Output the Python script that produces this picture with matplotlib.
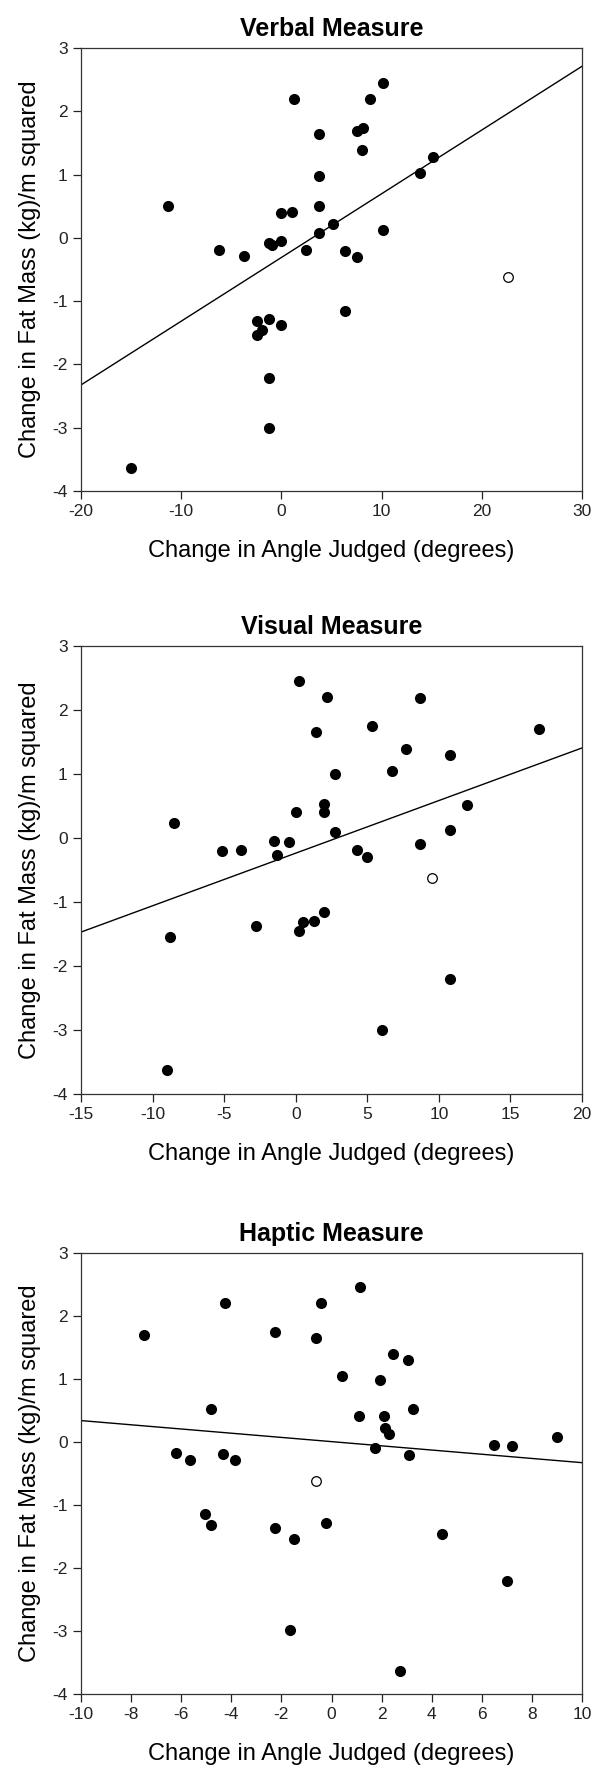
import numpy as np
import matplotlib
matplotlib.use("Agg")
from matplotlib import pyplot as plt

plt.rcParams["font.family"] = ["Liberation Sans", "DejaVu Sans"]
plt.rcParams["axes.unicode_minus"] = False

# Verbal measure
verbal_x = [-11.3, -6.2, -3.7, -2.4, -2.4, -1.9, -1.2, -1.2, -1.2, 0.0,
            -1.2, -0.9, 0.0, 0.0, 1.1, 1.3, 2.5, 3.8, 3.8, 3.8,
            3.8, 5.1, 6.3, 6.3, 7.5, 7.5, 8.1, 8.0, 8.8, 10.1,
            10.1, 13.8, 15.1, -15.0]
verbal_y = [0.51, -0.19, -0.28, -1.32, -1.54, -1.46, -1.29, -2.21, -3.0, -1.37,
            -0.08, -0.12, -0.05, 0.40, 0.41, 2.20, -0.19, 1.64, 0.98, 0.51,
            0.08, 0.22, -0.21, -1.15, -0.30, 1.69, 1.74, 1.39, 2.19, 2.44,
            0.12, 1.03, 1.28, -3.63]
verbal_out = (22.6, -0.62)
verbal_fit = (-0.31, 0.1007)

# Visual measure
visual_x = [-8.5, -5.15, -3.8, -1.5, -1.3, -0.5, 0.0, 0.2, 1.45, 2.0,
            2.0, 2.2, 2.75, 2.75, 4.25, 5.0, 5.35, 6.7, 7.7, 8.7,
            8.7, 10.75, 10.75, 12.0, 17.0, -8.8, -2.75, 0.2, 0.5, 1.25,
            2.0, 10.75, 6.0, -9.0]
visual_y = [0.23, -0.20, -0.18, -0.04, -0.27, -0.07, 0.41, 2.45, 1.65, 0.53,
            0.41, 2.20, 1.00, 0.09, -0.18, -0.29, 1.75, 1.05, 1.39, 2.19,
            -0.10, 1.29, 0.12, 0.52, 1.70, -1.54, -1.37, -1.46, -1.32, -1.30,
            -1.16, -2.20, -3.0, -3.63]
visual_out = (9.5, -0.62)
visual_fit = (-0.237, 0.0822)

# Haptic measure
haptic_x = [-7.5, -6.2, -5.65, -4.8, -4.25, -4.35, -3.85, -2.25, -0.6, -0.4,
            0.4, 1.15, 1.1, 1.75, 1.95, 2.1, 2.15, 2.3, 2.45, 3.05,
            3.25, 3.1, 6.5, 7.2, 9.0, -5.05, -4.8, -2.25, -1.5, -0.2,
            -1.65, 4.4, 7.0, 2.75]
haptic_y = [1.70, -0.18, -0.28, 0.52, 2.20, -0.19, -0.28, 1.75, 1.65, 2.20,
            1.04, 2.46, 0.42, -0.10, 0.99, 0.41, 0.22, 0.12, 1.39, 1.30,
            0.52, -0.20, -0.04, -0.07, 0.08, -1.15, -1.32, -1.37, -1.54, -1.29,
            -2.99, -1.46, -2.20, -3.63]
haptic_out = (-0.62, -0.62)
haptic_fit = (0.006, -0.0334)

titles = ["Verbal Measure", "Visual Measure", "Haptic Measure"]
x_ranges = [(-20, 30), (-15, 20), (-10, 10)]
x_steps = [10, 5, 2]
y_ticks = [3, 2, 1, 0, -1, -2, -3, -4]

W, H = 596, 1771
# (top, bottom) of each plot area in pixels
boxes = [(48, 491), (646, 1094), (1253, 1694)]
left, right = 81, 582


def draw_panel(ax, xs, ys, out, fit, title, xr, step):
    ax.scatter(xs, ys, s=64, color="black", zorder=3, linewidths=0)
    ax.scatter([out[0]], [out[1]], s=48, facecolor="white",
               edgecolor="black", linewidths=0.9, zorder=3)
    lx = np.array(xr, dtype=float)
    ax.plot(lx, fit[0] + fit[1] * lx, color="black", lw=1.0, zorder=2)
    ax.set_xlim(*xr)
    ax.set_ylim(-4, 3)
    ax.set_xticks(np.arange(xr[0], xr[1] + 0.1, step))
    ax.set_yticks(y_ticks)
    ax.tick_params(direction="out", length=6, width=0.9, labelsize=12.5,
                   top=False, right=False, colors="#222222")
    for sp in ax.spines.values():
        sp.set_linewidth(0.9)
        sp.set_color("#333333")
    ax.set_title(title, fontsize=18, fontweight="bold", pad=9)
    ax.set_xlabel("Change in Angle Judged (degrees)", fontsize=17, labelpad=15)
    ax.set_ylabel("Change in Fat Mass (kg)/m squared", fontsize=17, labelpad=8)


fig = plt.figure(figsize=(W / 100, H / 100), dpi=100)
data = [(verbal_x, verbal_y, verbal_out, verbal_fit),
        (visual_x, visual_y, visual_out, visual_fit),
        (haptic_x, haptic_y, haptic_out, haptic_fit)]
for i, (xs, ys, out, fit) in enumerate(data):
    top, bot = boxes[i]
    ax = fig.add_axes([left / W, 1 - bot / H, (right - left) / W, (bot - top) / H])
    draw_panel(ax, xs, ys, out, fit, titles[i], x_ranges[i], x_steps[i])

fig.savefig("out.png", dpi=100)
